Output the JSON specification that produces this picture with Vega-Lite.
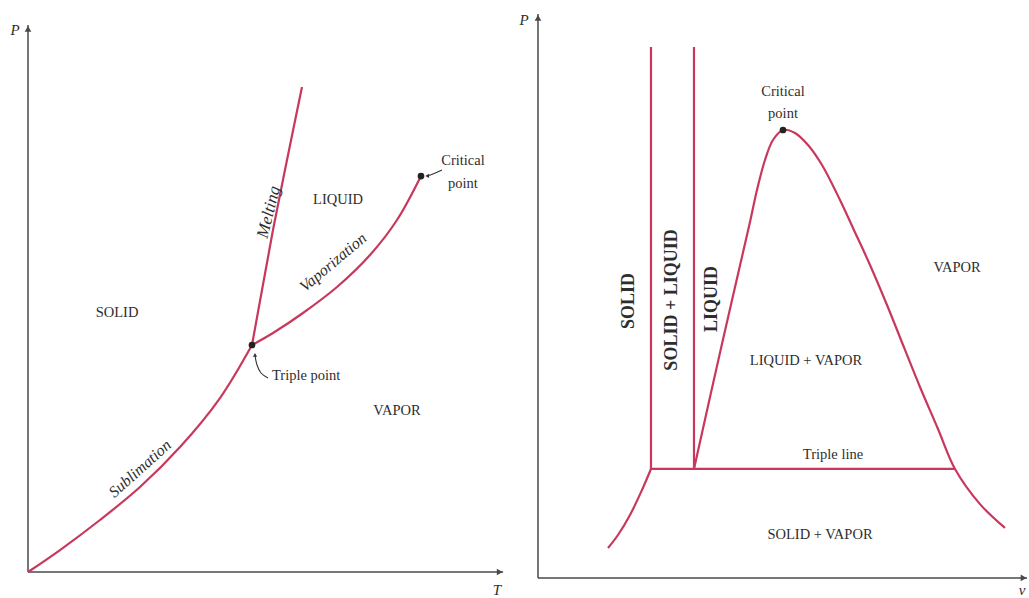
{
  "$schema": "https://vega.github.io/schema/vega-lite/v6.json",
  "padding": 0,
  "spacing": 0,
  "background": "white",
  "config": {"view": {"stroke": null}, "font": "Liberation Serif"},
  "hconcat": [
    {
      "width": 510,
      "height": 598,
      "encoding": {
        "x": {"field": "x", "type": "quantitative", "scale": {"domain": [-5.87, 101.05], "nice": false, "zero": false}, "axis": null},
        "y": {"field": "y", "type": "quantitative", "scale": {"domain": [-4.75, 104.57], "nice": false, "zero": false}, "axis": null}
      },
      "layer": [
        {
          "data": {"values": [{"x": 0, "y": 0, "x2": 0, "y2": 100}, {"x": 0, "y": 0, "x2": 99.6, "y2": 0}]},
          "mark": {"type": "rule", "color": "#4a4a4a", "strokeWidth": 1.5},
          "encoding": {"x2": {"field": "x2"}, "y2": {"field": "y2"}}
        },
        {
          "data": {"values": [{"x": 0, "y": 99.3}]},
          "mark": {"type": "point", "shape": "triangle-up", "filled": true, "size": 45, "color": "#4a4a4a", "opacity": 1}
        },
        {
          "data": {"values": [{"x": 98.9, "y": 0}]},
          "mark": {"type": "point", "shape": "triangle-right", "filled": true, "size": 45, "color": "#4a4a4a", "opacity": 1}
        },
        {
          "data": {"values": [
            {"curve": "Sublimation", "i": 0, "x": 0, "y": 0},
            {"curve": "Sublimation", "i": 1, "x": 6.71, "y": 4.02},
            {"curve": "Sublimation", "i": 2, "x": 15.09, "y": 9.51},
            {"curve": "Sublimation", "i": 3, "x": 23.48, "y": 15.54},
            {"curve": "Sublimation", "i": 4, "x": 31.87, "y": 22.85},
            {"curve": "Sublimation", "i": 5, "x": 40.25, "y": 31.81},
            {"curve": "Sublimation", "i": 6, "x": 46.96, "y": 41.5},
            {"curve": "Melting", "i": 0, "x": 46.96, "y": 41.5},
            {"curve": "Melting", "i": 1, "x": 49.06, "y": 51.55},
            {"curve": "Melting", "i": 2, "x": 51.36, "y": 62.52},
            {"curve": "Melting", "i": 3, "x": 54.3, "y": 75.32},
            {"curve": "Melting", "i": 4, "x": 57.44, "y": 88.67},
            {"curve": "Vaporization", "i": 0, "x": 46.96, "y": 41.5},
            {"curve": "Vaporization", "i": 1, "x": 51.36, "y": 43.69},
            {"curve": "Vaporization", "i": 2, "x": 57.65, "y": 47.35},
            {"curve": "Vaporization", "i": 3, "x": 64.78, "y": 52.1},
            {"curve": "Vaporization", "i": 4, "x": 71.7, "y": 57.95},
            {"curve": "Vaporization", "i": 5, "x": 77.36, "y": 64.35},
            {"curve": "Vaporization", "i": 6, "x": 82.39, "y": 72.39}
          ]},
          "mark": {"type": "line", "color": "#c8385c", "strokeWidth": 2.2, "interpolate": "catmull-rom"},
          "encoding": {"detail": {"field": "curve"}, "order": {"field": "i", "type": "quantitative"}}
        },
        {
          "data": {"values": [
            {"arrow": "critical", "i": 0, "x": 86.79, "y": 73.49},
            {"arrow": "critical", "i": 1, "x": 84.91, "y": 72.76},
            {"arrow": "critical", "i": 2, "x": 83.6, "y": 72.4},
            {"arrow": "triple", "i": 0, "x": 50.31, "y": 35.47},
            {"arrow": "triple", "i": 1, "x": 48.85, "y": 36.38},
            {"arrow": "triple", "i": 2, "x": 48.01, "y": 37.84},
            {"arrow": "triple", "i": 3, "x": 47.59, "y": 39.6}
          ]},
          "mark": {"type": "line", "color": "#333333", "strokeWidth": 1.1, "interpolate": "catmull-rom"},
          "encoding": {"detail": {"field": "arrow"}, "order": {"field": "i", "type": "quantitative"}}
        },
        {
          "data": {"values": [{"x": 83.7, "y": 72.4}]},
          "mark": {"type": "point", "shape": "triangle-left", "filled": true, "size": 18, "color": "#333333", "opacity": 1}
        },
        {
          "data": {"values": [{"x": 47.59, "y": 39.7}]},
          "mark": {"type": "point", "shape": "triangle-up", "filled": true, "size": 18, "color": "#333333", "opacity": 1}
        },
        {
          "data": {"values": [{"x": 46.96, "y": 41.5}, {"x": 82.39, "y": 72.39}]},
          "mark": {"type": "point", "filled": true, "size": 45, "color": "#222222", "opacity": 1}
        },
        {
          "data": {"values": [
            {"x": 18.66, "y": 47.35, "label": "SOLID"},
            {"x": 64.99, "y": 68.01, "label": "LIQUID"},
            {"x": 77.36, "y": 29.43, "label": "VAPOR"},
            {"x": 91.19, "y": 75.14, "label": "Critical"},
            {"x": 91.19, "y": 70.93, "label": "point"}
          ]},
          "mark": {"type": "text", "fontSize": 14.5, "color": "#2e2e2e", "baseline": "middle", "align": "center"},
          "encoding": {"text": {"field": "label"}}
        },
        {
          "data": {"values": [{"x": 51.15, "y": 35.83, "label": "Triple point"}]},
          "mark": {"type": "text", "fontSize": 14.5, "color": "#2e2e2e", "baseline": "middle", "align": "left"},
          "encoding": {"text": {"field": "label"}}
        },
        {
          "data": {"values": [{"x": 23.48, "y": 18.9, "label": "Sublimation"}]},
          "mark": {"type": "text", "fontSize": 16, "fontStyle": "italic", "color": "#2e2e2e", "baseline": "middle", "align": "center", "angle": 318},
          "encoding": {"text": {"field": "label"}}
        },
        {
          "data": {"values": [{"x": 50.5, "y": 65.81, "label": "Melting"}]},
          "mark": {"type": "text", "fontSize": 17, "fontStyle": "italic", "color": "#2e2e2e", "baseline": "middle", "align": "center", "angle": 284},
          "encoding": {"text": {"field": "label"}}
        },
        {
          "data": {"values": [{"x": 63.94, "y": 56.6, "label": "Vaporization"}]},
          "mark": {"type": "text", "fontSize": 16, "fontStyle": "italic", "color": "#2e2e2e", "baseline": "middle", "align": "center", "angle": 320},
          "encoding": {"text": {"field": "label"}}
        },
        {
          "data": {"values": [{"x": -2.73, "y": 99.09, "label": "P"}, {"x": 98.32, "y": -3.29, "label": "T"}]},
          "mark": {"type": "text", "fontSize": 15, "fontStyle": "italic", "color": "#2e2e2e", "baseline": "middle", "align": "center"},
          "encoding": {"text": {"field": "label"}}
        }
      ]
    },
    {
      "width": 519,
      "height": 598,
      "encoding": {
        "x": {"field": "x", "type": "quantitative", "scale": {"domain": [-5.7, 100.0], "nice": false, "zero": false}, "axis": null},
        "y": {"field": "y", "type": "quantitative", "scale": {"domain": [-3.55, 102.48], "nice": false, "zero": false}, "axis": null}
      },
      "layer": [
        {
          "data": {"values": [{"x": 0, "y": 0, "x2": 0, "y2": 100}, {"x": 0, "y": 0, "x2": 99.6, "y2": 0}]},
          "mark": {"type": "rule", "color": "#4a4a4a", "strokeWidth": 1.5},
          "encoding": {"x2": {"field": "x2"}, "y2": {"field": "y2"}}
        },
        {
          "data": {"values": [{"x": 0, "y": 99.3}]},
          "mark": {"type": "point", "shape": "triangle-up", "filled": true, "size": 45, "color": "#4a4a4a", "opacity": 1}
        },
        {
          "data": {"values": [{"x": 98.9, "y": 0}]},
          "mark": {"type": "point", "shape": "triangle-right", "filled": true, "size": 45, "color": "#4a4a4a", "opacity": 1}
        },
        {
          "data": {"values": [
            {"x": 23.01, "y": 19.33, "x2": 23.01, "y2": 94.15},
            {"x": 31.77, "y": 19.33, "x2": 31.77, "y2": 94.15},
            {"x": 23.01, "y": 19.33, "x2": 84.93, "y2": 19.33}
          ]},
          "mark": {"type": "rule", "color": "#c8385c", "strokeWidth": 2.2},
          "encoding": {"x2": {"field": "x2"}, "y2": {"field": "y2"}}
        },
        {
          "data": {"values": [
            {"curve": "dome", "i": 0, "x": 31.77, "y": 19.33},
            {"curve": "dome", "i": 1, "x": 37.47, "y": 41.49},
            {"curve": "dome", "i": 2, "x": 43.18, "y": 63.12},
            {"curve": "dome", "i": 3, "x": 44.6, "y": 68.79},
            {"curve": "dome", "i": 4, "x": 46.23, "y": 74.11},
            {"curve": "dome", "i": 5, "x": 47.86, "y": 77.66},
            {"curve": "dome", "i": 6, "x": 49.9, "y": 79.43},
            {"curve": "dome", "i": 7, "x": 52.34, "y": 78.9},
            {"curve": "dome", "i": 8, "x": 54.99, "y": 76.77},
            {"curve": "dome", "i": 9, "x": 57.84, "y": 73.23},
            {"curve": "dome", "i": 10, "x": 61.51, "y": 67.02},
            {"curve": "dome", "i": 11, "x": 64.15, "y": 62.06},
            {"curve": "dome", "i": 12, "x": 67.62, "y": 55.5},
            {"curve": "dome", "i": 13, "x": 71.08, "y": 48.4},
            {"curve": "dome", "i": 14, "x": 74.75, "y": 40.43},
            {"curve": "dome", "i": 15, "x": 77.8, "y": 33.87},
            {"curve": "dome", "i": 16, "x": 81.47, "y": 26.42},
            {"curve": "dome", "i": 17, "x": 84.93, "y": 19.33},
            {"curve": "dome", "i": 18, "x": 90.02, "y": 13.1},
            {"curve": "dome", "i": 19, "x": 95.11, "y": 8.87},
            {"curve": "sublimation", "i": 0, "x": 14.26, "y": 5.32},
            {"curve": "sublimation", "i": 1, "x": 16.29, "y": 7.62},
            {"curve": "sublimation", "i": 2, "x": 18.74, "y": 11.17},
            {"curve": "sublimation", "i": 3, "x": 21.18, "y": 15.6},
            {"curve": "sublimation", "i": 4, "x": 23.01, "y": 19.33}
          ]},
          "mark": {"type": "line", "color": "#c8385c", "strokeWidth": 2.2, "interpolate": "catmull-rom"},
          "encoding": {"detail": {"field": "curve"}, "order": {"field": "i", "type": "quantitative"}}
        },
        {
          "data": {"values": [{"x": 49.9, "y": 79.43}]},
          "mark": {"type": "point", "filled": true, "size": 45, "color": "#222222", "opacity": 1}
        },
        {
          "data": {"values": [
            {"x": 49.9, "y": 86.17, "label": "Critical"},
            {"x": 49.9, "y": 82.27, "label": "point"},
            {"x": 85.34, "y": 54.96, "label": "VAPOR"},
            {"x": 54.58, "y": 38.48, "label": "LIQUID + VAPOR"},
            {"x": 60.08, "y": 21.81, "label": "Triple line"},
            {"x": 57.43, "y": 7.62, "label": "SOLID + VAPOR"}
          ]},
          "mark": {"type": "text", "fontSize": 14.5, "color": "#2e2e2e", "baseline": "middle", "align": "center"},
          "encoding": {"text": {"field": "label"}}
        },
        {
          "data": {"values": [
            {"x": 18.53, "y": 49.11, "label": "SOLID"},
            {"x": 27.29, "y": 49.29, "label": "SOLID + LIQUID"},
            {"x": 35.44, "y": 49.47, "label": "LIQUID"}
          ]},
          "mark": {"type": "text", "fontSize": 18, "fontWeight": "bold", "color": "#2e2e2e", "baseline": "middle", "align": "center", "angle": 270},
          "encoding": {"text": {"field": "label"}}
        },
        {
          "data": {"values": [{"x": -2.85, "y": 98.94, "label": "P"}, {"x": 98.57, "y": -2.13, "label": "v"}]},
          "mark": {"type": "text", "fontSize": 15, "fontStyle": "italic", "color": "#2e2e2e", "baseline": "middle", "align": "center"},
          "encoding": {"text": {"field": "label"}}
        }
      ]
    }
  ]
}
